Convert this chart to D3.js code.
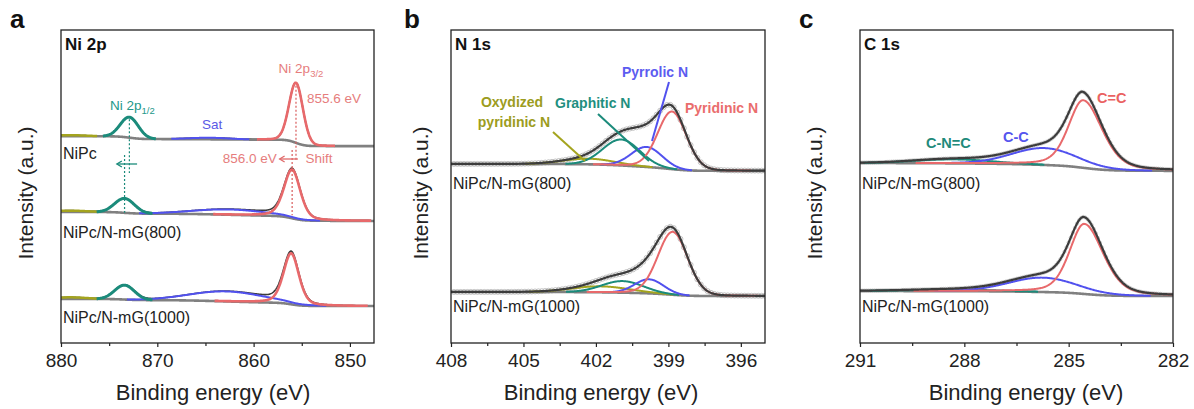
<!DOCTYPE html>
<html>
<head>
<meta charset="utf-8">
<script src="https://cdn.jsdelivr.net/npm/d3@7"></script>
<style>
  html, body { margin: 0; padding: 0; background: #fff; }
  svg { display: block; font-family: "Liberation Sans", Arial, sans-serif; }
</style>
</head>
<body>
<svg id="chart" width="1194" height="409"></svg>
<script>
// ---------------- Ni 2p ----------------
const ni2pSamples   = ["NiPc", "NiPc/N-mG(800)", "NiPc/N-mG(1000)"];
const ni2pPeaks     = ["Sat (2p1/2)", "Sat", "Ni 2p1/2", "Ni 2p3/2"];
const ni2pBaseHigh  = [66.1, 41.9, 14.1];   // background at the high-BE end
const ni2pBaseLow   = [62.9, 39.0, 11.8];   // background at the low-BE end
const ni2pCenter    = [[879.0, 864.5, 872.9, 855.6], [879.0, 862.5, 873.4, 856.0], [879.0, 862.8, 873.4, 856.1]];
const ni2pHeight    = [[0.3, 0.5, 6.55, 19.2], [0.4, 1.7, 4.6, 15.6], [0.5, 3.2, 4.6, 16.3]];
const ni2pFwhm      = [[4.0, 5.0, 2.2, 1.7], [4.0, 9.0, 2.4, 2.0], [4.0, 9.0, 2.4, 1.9]];
const ni2pLorentz   = [[0, 0, 0, 0.1], [0, 0, 0, 0.35], [0, 0, 0, 0.35]];
const ni2pTicks     = [880, 870, 860, 850];
const ni2pMinor     = [875, 865, 855];

// ---------------- N 1s ----------------
const n1sSamples    = ["NiPc/N-mG(800)", "NiPc/N-mG(1000)"];
const n1sPeaks      = ["Oxydized pyridinic N", "Graphitic N", "Pyrrolic N", "Pyridinic N"];
const n1sBaseHigh   = [57.2, 16.3];
const n1sBaseLow    = [55.0, 15.0];
const n1sCenter     = [[402.3, 400.95, 399.9, 398.85], [401.8, 400.9, 399.8, 398.82]];
const n1sHeight     = [[1.8, 8.3, 6.4, 18.4], [1.9, 3.7, 4.5, 20.1]];
const n1sFwhm       = [[2.5, 1.8, 1.5, 1.4], [2.8, 2.0, 1.4, 1.45]];
const n1sLorentz    = [[0, 0, 0, 0.1], [0, 0, 0, 0.1]];
const n1sRawStep    = 0.14;
const n1sTicks      = [408, 405, 402, 399, 396];
const n1sMinor      = [406.5, 403.5, 400.5, 397.5];

// ---------------- C 1s ----------------
const c1sSamples    = ["NiPc/N-mG(800)", "NiPc/N-mG(1000)"];
const c1sPeaks      = ["C-N=C", "C-C", "C=C"];
const c1sBaseHigh   = [57.5, 16.6];
const c1sBaseLow    = [55.0, 15.0];
const c1sCenter     = [[288.3, 285.7, 284.58], [288.3, 285.75, 284.55]];
const c1sHeight     = [[1.3, 5.4, 21.6], [0.5, 4.6, 22.4]];
const c1sFwhm       = [[2.6, 2.2, 1.0], [3.0, 2.3, 1.0]];    // high-BE side
const c1sFwhmLow    = [[2.6, 2.2, 1.28], [3.0, 2.3, 1.28]];  // low-BE side
const c1sLorentz    = [[0, 0.1, 0.35], [0, 0.1, 0.35]];
const c1sRawStep    = 0.06;
const c1sTicks      = [291, 288, 285, 282];
const c1sMinor      = [289.5, 286.5, 283.5];

// ---------------- styling ----------------
const COL = {
  teal: "#1b8b7b", red: "#e8696b", blue: "#5151ee", olive: "#a4a41e",
  env: "#3c3c3c", base: "#808080", raw: "#b4b4b4", axis: "#222"
};
const frameTop = 30, frameBottom = 343;
const svg = d3.select("#chart");

// pseudo-Voigt line shape with separate widths on the two sides of the centre
const K = 4 * Math.LN2;
function lineShape(e, c, h, wHi, wLo, eta) {
  const w = e >= c ? wHi : wLo;
  const u = (e - c) / w;
  return h * ((1 - eta) * Math.exp(-K * u * u) + eta / (1 + 4 * u * u));
}

// fitted spectrum: components on a Shirley-type background
function buildSpectrum(lo, hi, step, peaks, bHigh, bLow) {
  const n = Math.round((hi - lo) / step);
  const E = d3.range(n + 1).map(i => lo + i * step);
  const comp = peaks.map(p => E.map(e => lineShape(e, p.c, p.h, p.wHi, p.wLo, p.eta)));
  const total = E.map((e, i) => d3.sum(comp, c => c[i]));
  const cum = [0];
  for (let i = 1; i <= n; i++) cum.push(cum[i - 1] + 0.5 * (total[i] + total[i - 1]) * step);
  const A = cum[n] || 1;
  const bg = cum.map(a => bLow + (bHigh - bLow) * a / A);
  return { E, comp, total, bg, env: total.map((t, i) => t + bg[i]) };
}

function peaksFor(center, height, fwhm, fwhmLow, lor, s) {
  return center[s].map((c, k) => ({
    c, h: height[s][k], wHi: fwhm[s][k], wLo: (fwhmLow || fwhm)[s][k], eta: lor[s][k]
  }));
}

const panels = [
  {
    letter: "a", letterX: 10, title: "Ni 2p", x0: 61, x1: 374, domain: [880, 847.5],
    ticks: ni2pTicks, minor: ni2pMinor, step: 0.05, ylabelX: 25, xtitleX: 213,
    samples: ni2pSamples, labelY: [159, 238, 323],
    peaks: ni2pSamples.map((_, s) => peaksFor(ni2pCenter, ni2pHeight, ni2pFwhm, null, ni2pLorentz, s)),
    baseHigh: ni2pBaseHigh, baseLow: ni2pBaseLow,
    colors: [COL.olive, COL.blue, COL.teal, COL.red], widths: [2.5, 2, 3, 2.6],
    envWidth: 1.6, raw: null
  },
  {
    letter: "b", letterX: 404, title: "N 1s", x0: 451, x1: 765, domain: [408, 395],
    ticks: n1sTicks, minor: n1sMinor, step: 0.02, ylabelX: 420, xtitleX: 601,
    samples: n1sSamples, labelY: [189, 312],
    peaks: n1sSamples.map((_, s) => peaksFor(n1sCenter, n1sHeight, n1sFwhm, null, n1sLorentz, s)),
    baseHigh: n1sBaseHigh, baseLow: n1sBaseLow,
    colors: [COL.olive, COL.teal, COL.blue, COL.red], widths: [2, 2, 2, 2],
    envWidth: 2.2, raw: { step: n1sRawStep, r: 2.5, w: 0.8 }
  },
  {
    letter: "c", letterX: 799, title: "C 1s", x0: 860, x1: 1173, domain: [291, 282],
    ticks: c1sTicks, minor: c1sMinor, step: 0.02, ylabelX: 814, xtitleX: 1026,
    samples: c1sSamples, labelY: [189, 312],
    peaks: c1sSamples.map((_, s) => peaksFor(c1sCenter, c1sHeight, c1sFwhm, c1sFwhmLow, c1sLorentz, s)),
    baseHigh: c1sBaseHigh, baseLow: c1sBaseLow,
    colors: [COL.teal, COL.blue, COL.red], widths: [2, 2, 2],
    envWidth: 2.2, raw: { step: c1sRawStep, r: 1.6, w: 0.7 }
  }
];

const y = d3.scaleLinear().domain([0, 100]).range([frameBottom, frameTop]);

panels.forEach((P, pi) => {
  const x = d3.scaleLinear().domain(P.domain).range([P.x0, P.x1]);
  P.x = x;
  const g = svg.append("g");
  const clipId = "clip" + pi;
  svg.append("clipPath").attr("id", clipId).append("rect")
    .attr("x", P.x0).attr("y", frameTop).attr("width", P.x1 - P.x0).attr("height", frameBottom - frameTop);
  const plot = g.append("g").attr("clip-path", `url(#${clipId})`);
  const lo = Math.min(...P.domain), hi = Math.max(...P.domain);

  P.spectra = P.samples.map((name, s) => {
    const sp = buildSpectrum(lo, hi, P.step, P.peaks[s], P.baseHigh[s], P.baseLow[s]);
    const line = d3.line().x(d => x(d[0])).y(d => y(d[1]));
    const envPts = sp.E.map((e, i) => [e, sp.env[i]]);
    const bgPts = sp.E.map((e, i) => [e, sp.bg[i]]);

    // measured points (open circles) for N 1s / C 1s
    if (P.raw) {
      const every = Math.max(1, Math.round(P.raw.step / P.step));
      const rawPts = envPts.filter((d, i) => i % every === 0);
      plot.append("g").selectAll("circle").data(rawPts).join("circle")
        .attr("cx", d => x(d[0])).attr("cy", d => y(d[1])).attr("r", P.raw.r)
        .attr("fill", "none").attr("stroke", COL.raw).attr("stroke-width", P.raw.w);
    }
    if (!P.raw) {
      plot.append("path").attr("d", line(envPts)).attr("fill", "none")
        .attr("stroke", COL.env).attr("stroke-width", P.envWidth);
    }
    plot.append("path").attr("d", line(bgPts)).attr("fill", "none")
      .attr("stroke", COL.base).attr("stroke-width", 2.6);

    sp.comp.forEach((c, k) => {
      const thr = 0.08;
      const pts = sp.E.map((e, i) => [e, c[i] + sp.bg[i], c[i]]);
      const l = d3.line().defined(d => d[2] > thr).x(d => x(d[0])).y(d => y(d[1]));
      plot.append("path").attr("d", l(pts)).attr("fill", "none")
        .attr("stroke", P.colors[k]).attr("stroke-width", P.widths[k]).attr("stroke-linejoin", "round");
    });
    if (P.raw) {
      plot.append("path").attr("d", line(envPts)).attr("fill", "none")
        .attr("stroke", COL.env).attr("stroke-width", P.envWidth);
    }

    g.append("text").attr("x", P.x0 + 2).attr("y", P.labelY[s])
      .attr("font-size", 16).attr("fill", "#222").text(name);
    return sp;
  });

  // frame
  g.append("rect").attr("x", P.x0).attr("y", frameTop)
    .attr("width", P.x1 - P.x0).attr("height", frameBottom - frameTop)
    .attr("fill", "none").attr("stroke", COL.axis).attr("stroke-width", 1.3);

  // bottom axis: labelled and minor ticks
  const ax = g.append("g").attr("transform", `translate(0,${frameBottom})`)
    .call(d3.axisBottom(x).tickValues(P.ticks).tickSize(4).tickPadding(7).tickFormat(d3.format("d")));
  ax.select(".domain").remove();
  ax.selectAll("line").attr("stroke", COL.axis).attr("stroke-width", 1.2);
  ax.selectAll("text").attr("font-size", 19).attr("fill", "#222")
    .attr("font-family", '"Liberation Sans", Arial, sans-serif');
  const axm = g.append("g").attr("transform", `translate(0,${frameBottom})`)
    .call(d3.axisBottom(x).tickValues(P.minor).tickSize(3).tickFormat(""));
  axm.select(".domain").remove();
  axm.selectAll("line").attr("stroke", COL.axis).attr("stroke-width", 1.2);

  // titles
  g.append("text").attr("x", P.xtitleX).attr("y", 400).attr("text-anchor", "middle")
    .attr("font-size", 22).attr("fill", "#222").text("Binding energy (eV)");
  g.append("text").attr("transform", `translate(${P.ylabelX},193) rotate(-90)`)
    .attr("text-anchor", "middle").attr("dy", "0.36em")
    .attr("font-size", 21).attr("fill", "#222").text("Intensity (a.u.)");
  g.append("text").attr("x", P.letterX).attr("y", 28)
    .attr("font-size", 26).attr("font-weight", "bold").attr("fill", "#111").text(P.letter);
  g.append("text").attr("x", P.x0 + 4).attr("y", 50)
    .attr("font-size", 17).attr("font-weight", "bold").attr("fill", "#111").text(P.title);
});

// ---------------- annotations ----------------
function subLabel(g, xp, yp, main, sub, color, anchor) {
  const t = g.append("text").attr("x", xp).attr("y", yp).attr("fill", color)
    .attr("font-size", 13.5).attr("text-anchor", anchor || "start");
  t.append("tspan").text(main);
  t.append("tspan").attr("font-size", 9.5).attr("dy", 4).text(sub);
}
function leftArrow(g, x1, x2, yp, color) {
  g.append("line").attr("x1", x1).attr("x2", x2).attr("y1", yp).attr("y2", yp)
    .attr("stroke", color).attr("stroke-width", 1.3);
  g.append("path").attr("d", `M${x2 + 5},${yp - 3}L${x2},${yp}L${x2 + 5},${yp + 3}`)
    .attr("fill", "none").attr("stroke", color).attr("stroke-width", 1.3);
}
function vDotted(g, xp, y1, y2, color) {
  g.append("line").attr("x1", xp).attr("x2", xp).attr("y1", y1).attr("y2", y2)
    .attr("stroke", color).attr("stroke-width", 1.2).attr("stroke-dasharray", "2,2");
}
function envAt(sp, e) {
  let best = 0;
  sp.E.forEach((v, i) => { if (Math.abs(v - e) < Math.abs(sp.E[best] - e)) best = i; });
  return { env: sp.env[best], bg: sp.bg[best] };
}

// Ni 2p
{
  const P = panels[0], x = P.x, g = svg.append("g");
  const [sNi, s800] = P.spectra;
  const p12a = ni2pCenter[0][2], p12b = ni2pCenter[1][2];
  const p32a = ni2pCenter[0][3], p32b = ni2pCenter[1][3];
  const top12 = y(envAt(sNi, p12a).env), top32 = y(envAt(sNi, p32a).env);
  const tealTxt = "#23988a", redTxt = "#e67d7d";

  vDotted(g, x(p12a), top12 + 2, 173, COL.teal);
  vDotted(g, x(p12b), 155, y(envAt(s800, p12b).bg), COL.teal);
  leftArrow(g, x(872.1), x(874.2), 164, COL.teal);

  vDotted(g, x(p32a), top32 + 3, 160, "#d95b5b");
  vDotted(g, x(p32b), 150, y(envAt(s800, p32b).bg) - 3, "#d95b5b");
  leftArrow(g, x(855.4), x(857.3), 159, "#e06a6a");

  subLabel(g, x(p12a) + 3, top12 - 7, "Ni 2p", "1/2", tealTxt, "middle");
  subLabel(g, x(p32a) + 5, top32 - 10, "Ni 2p", "3/2", redTxt, "middle");
  g.append("text").attr("x", x(p32a) + 11).attr("y", top32 + 20).attr("fill", redTxt)
    .attr("font-size", 13.5).text(`${p32a.toFixed(1)} eV`);
  g.append("text").attr("x", x(857.6)).attr("y", 163).attr("fill", redTxt)
    .attr("font-size", 13.5).attr("text-anchor", "end").text(`${p32b.toFixed(1)} eV`);
  g.append("text").attr("x", x(854.6)).attr("y", 163).attr("fill", redTxt)
    .attr("font-size", 13.5).text("Shift");
  g.append("text").attr("x", x(864.3)).attr("y", 129).attr("fill", "#5a5ae6")
    .attr("font-size", 13.5).attr("text-anchor", "middle").text("Sat");
}

// N 1s
{
  const g = svg.append("g").attr("font-weight", "bold").attr("font-size", 14);
  const lead = (x1, y1, x2, y2, c) => g.append("line").attr("x1", x1).attr("y1", y1)
    .attr("x2", x2).attr("y2", y2).attr("stroke", c).attr("stroke-width", 2);
  lead(669, 82, 652, 141, COL.blue);
  lead(598, 114, 649, 161, COL.teal);
  lead(553, 132, 585, 161, COL.olive);
  g.append("text").attr("x", 622).attr("y", 77).attr("fill", "#5c5cf0").text("Pyrrolic N");
  g.append("text").attr("x", 685).attr("y", 113).attr("fill", "#ea6d6d").text("Pyridinic N");
  g.append("text").attr("x", 555).attr("y", 108).attr("fill", "#1f8f80").text("Graphitic N");
  g.append("text").attr("x", 512).attr("y", 107).attr("fill", "#9c9c20").attr("text-anchor", "middle").text("Oxydized");
  g.append("text").attr("x", 514).attr("y", 127).attr("fill", "#9c9c20").attr("text-anchor", "middle").text("pyridinic N");
}

// C 1s
{
  const g = svg.append("g").attr("font-weight", "bold").attr("font-size", 14.5);
  g.append("text").attr("x", 1097).attr("y", 103).attr("fill", "#ea6262").text("C=C");
  g.append("text").attr("x", 1003).attr("y", 142).attr("fill", "#5555ee").text("C-C");
  g.append("text").attr("x", 926).attr("y", 148).attr("fill", "#1f8a7a").text("C-N=C");
}
</script>
</body>
</html>
